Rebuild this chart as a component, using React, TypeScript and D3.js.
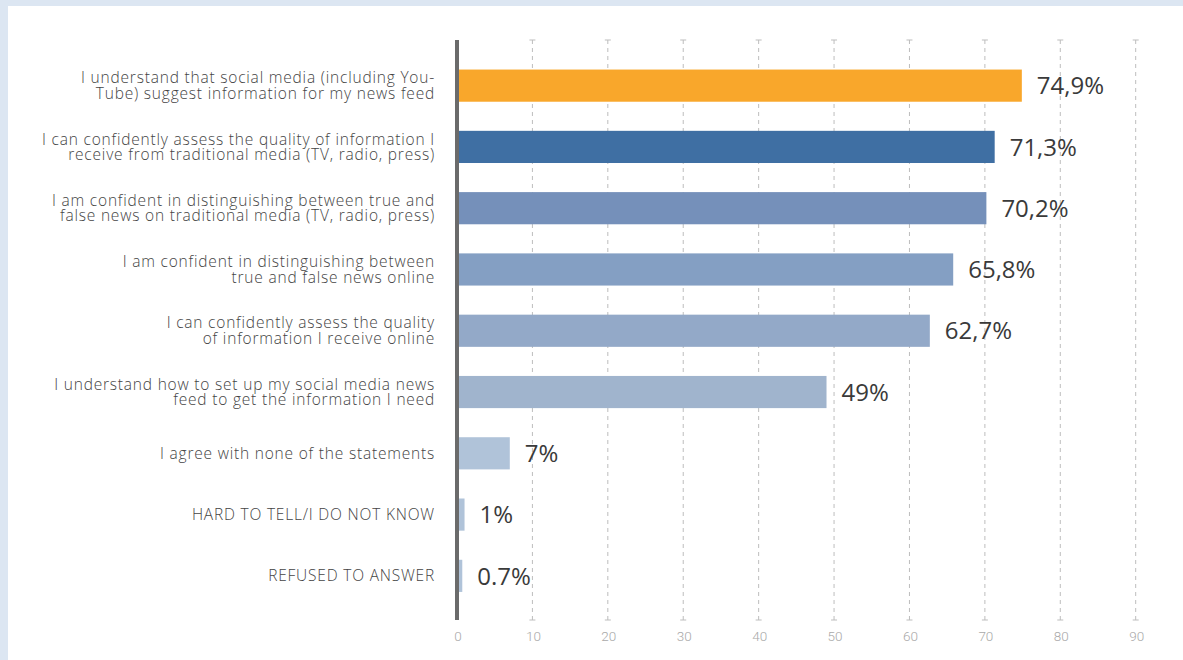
import React from "react";
import * as d3 from "d3";

const categories: string[][] = [
  ["I understand that social media (including You-", "Tube) suggest information for my news feed"],
  ["I can confidently assess the quality of information I", "receive from traditional media (TV, radio, press)"],
  ["I am confident in distinguishing between true and", "false news on traditional media (TV, radio, press)"],
  ["I am confident in distinguishing between", "true and false news online"],
  ["I can confidently assess the quality", "of information I receive online"],
  ["I understand how to set up my social media news", "feed to get the information I need"],
  ["I agree with none of the statements"],
  ["HARD TO TELL/I DO NOT KNOW"],
  ["REFUSED TO ANSWER"],
];
const values: number[] = [74.9, 71.3, 70.2, 65.8, 62.7, 49, 7, 1, 0.7];
const valueLabels: string[] = ["74,9%", "71,3%", "70,2%", "65,8%", "62,7%", "49%", "7%", "1%", "0.7%"];
const barColors: string[] = ["#F9A72B", "#3F6FA3", "#7590BA", "#849FC3", "#93A9C8", "#A0B4CD", "#B0C3D9", "#B0C3D9", "#B0C3D9"];
const ticks: number[] = [0, 10, 20, 30, 40, 50, 60, 70, 80, 90];

const W = 1183;
const H = 660;

export default function App() {
  const x = d3.scaleLinear().domain([0, 90]).range([457, 1135.7]);
  const y = d3
    .scaleBand<number>()
    .domain(d3.range(values.length))
    .range([55, 606.5])
    .paddingInner(0.475)
    .paddingOuter(0.2375);
  const gridTop = 40;
  const gridBottom = 620;
  const lineGap = 15.5;
  return (
    <div style={{ position: "absolute", left: 0, top: 0 }}>
      <svg width={W} height={H} style={{ display: "block" }}>
        <rect x={0} y={0} width={W} height={H} fill="#DCE6F2" />
        <rect x={8} y={6} width={W - 8} height={H - 6} fill="#FFFFFF" />
        {ticks.slice(1).map((t) => (
          <g key={t}>
            <line x1={x(t)} x2={x(t)} y1={gridTop} y2={gridBottom} stroke="#BDBDBD" strokeWidth={1} strokeDasharray="4,4" />
            <line x1={x(t) - 3} x2={x(t) + 3} y1={gridTop} y2={gridTop} stroke="#BDBDBD" strokeWidth={1} />
            <line x1={x(t) - 3} x2={x(t) + 3} y1={gridBottom} y2={gridBottom} stroke="#BDBDBD" strokeWidth={1} />
          </g>
        ))}
        {values.map((v, i) => {
          const by = y(i) as number;
          const bh = y.bandwidth();
          const cy = by + bh / 2;
          const n = categories[i].length;
          return (
            <g key={i}>
              <rect x={x(0) + 2} y={by} width={Math.max(0, x(v) - x(0) - 2)} height={bh} fill={barColors[i]} />
              <text
                x={x(v) + 15}
                y={cy}
                dy="0.36em"
                fontFamily="'Open Sans', sans-serif"
                fontSize={24}
                fill="#3A3A3A"
              >
                {valueLabels[i]}
              </text>
              {categories[i].map((line, j) => (
                <text
                  key={j}
                  x={435}
                  y={cy + (j - (n - 1) / 2) * lineGap}
                  dy="0.35em"
                  textAnchor="end"
                  fontFamily="'Open Sans', sans-serif"
                  fontWeight={300}
                  fontSize={15.5}
                  letterSpacing={0.8}
                  fill="#444444"
                >
                  {line}
                </text>
              ))}
            </g>
          );
        })}
        <line x1={x(0)} x2={x(0)} y1={gridTop} y2={gridBottom} stroke="#6B6B6B" strokeWidth={4} />
        {ticks.map((t) => (
          <text
            key={t}
            x={x(t) + 1}
            y={641}
            textAnchor="middle"
            fontFamily="Roboto, sans-serif"
            fontWeight={300}
            fontSize={13.5}
            fill="#A9A9A9"
          >
            {t}
          </text>
        ))}
      </svg>
    </div>
  );
}
